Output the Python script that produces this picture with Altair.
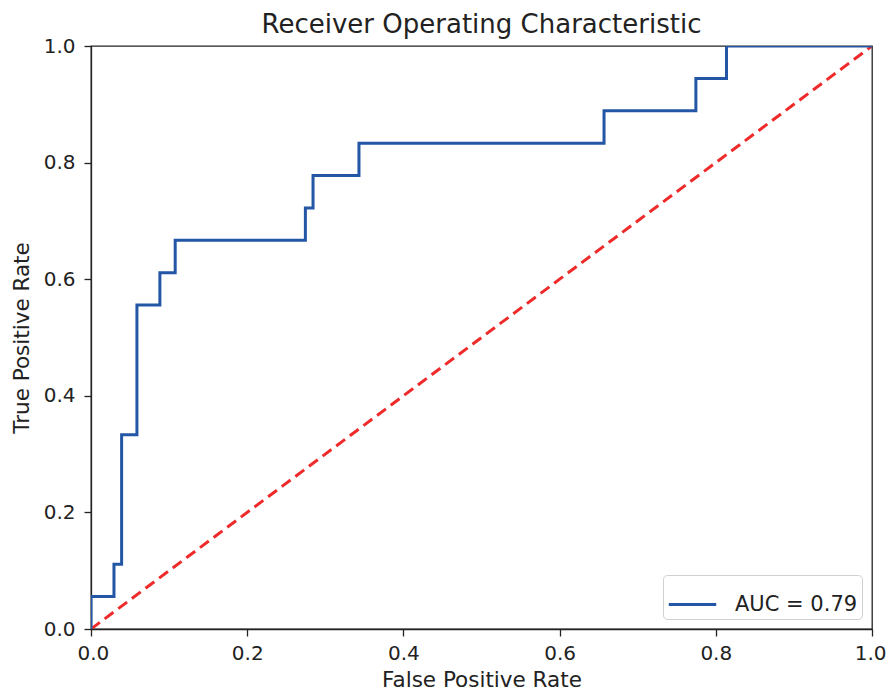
import altair as alt
import pandas as pd

fpr = [0.0, 0.0, 0.0294, 0.0294, 0.0392, 0.0392, 0.0588, 0.0588, 0.0882, 0.0882,
       0.1078, 0.1078, 0.2745, 0.2745, 0.2843, 0.2843, 0.3431, 0.3431, 0.6569, 0.6569,
       0.7745, 0.7745, 0.8137, 0.8137, 1.0]
tpr = [0.0, 0.0556, 0.0556, 0.1111, 0.1111, 0.3333, 0.3333, 0.5556, 0.5556, 0.6111,
       0.6111, 0.6667, 0.6667, 0.7222, 0.7222, 0.7778, 0.7778, 0.8333, 0.8333, 0.8889,
       0.8889, 0.9444, 0.9444, 1.0, 1.0]
series_label = "AUC = 0.79"
diag_x = [0.0, 1.0]
diag_y = [0.0, 1.0]
tick_values = [0, 0.2, 0.4, 0.6, 0.8, 1.0]

roc = pd.DataFrame({"fpr": fpr, "tpr": tpr, "order": list(range(len(fpr))),
                    "series": [series_label] * len(fpr)})
diag = pd.DataFrame({"x": diag_x, "y": diag_y})

xscale = alt.Scale(domain=[0, 1], nice=False, zero=False)
yscale = alt.Scale(domain=[0, 1], nice=False, zero=False)

xaxis = alt.Axis(title="False Positive Rate", values=tick_values, format=".1f",
                 labelFlush=True, labelFlushOffset=14, labelPadding=7,
                 titleBaseline="alphabetic", titleY=57)
yaxis = alt.Axis(title="True Positive Rate", values=tick_values, format=".1f",
                 labelFlush=False, labelPadding=9, titlePadding=10)

diag_line = alt.Chart(diag).mark_line(
    color="#ee2a2a", strokeWidth=3, strokeDash=[11, 6], clip=True
).encode(
    x=alt.X("x:Q", scale=xscale, axis=xaxis),
    y=alt.Y("y:Q", scale=yscale, axis=yaxis),
)

roc_line = alt.Chart(roc).mark_line(strokeWidth=3, clip=True).encode(
    x=alt.X("fpr:Q", scale=xscale, axis=xaxis),
    y=alt.Y("tpr:Q", scale=yscale, axis=yaxis),
    order="order:Q",
    color=alt.Color("series:N", scale=alt.Scale(range=["#2456a6"]),
                    legend=alt.Legend(title=None, orient="bottom-right", offset=10,
                                      symbolType="stroke", symbolSize=2250,
                                      symbolStrokeWidth=3, labelFontSize=21,
                                      labelFont="DejaVu Sans", labelColor="#222222",
                                      labelExpr="datum.label + '\u00a0'",
                                      fillColor="white", strokeColor="#d0d0d0",
                                      cornerRadius=4, padding=4, labelOffset=17)),
)

chart = alt.layer(diag_line, roc_line).properties(
    width=781, height=583,
    title=alt.TitleParams("Receiver Operating Characteristic", fontSize=26,
                          font="DejaVu Sans", fontWeight="normal", color="#222222",
                          offset=8, dy=10),
    autosize=alt.AutoSizeParams(type="none"),
    padding={"left": 83, "top": 38, "right": 14, "bottom": 62},
).configure_view(
    stroke="#222222", strokeWidth=1.3
).configure_axis(
    grid=False, domainColor="#222222", domainWidth=1.3, tickColor="#222222",
    tickSize=7, tickWidth=1.3, labelFont="DejaVu Sans", labelFontSize=20,
    labelColor="#222222", titleFont="DejaVu Sans", titleFontSize=21.5,
    titleFontWeight="normal", titleColor="#222222",
)

chart.save("out.html", embed_options={"renderer": "svg", "actions": False})
